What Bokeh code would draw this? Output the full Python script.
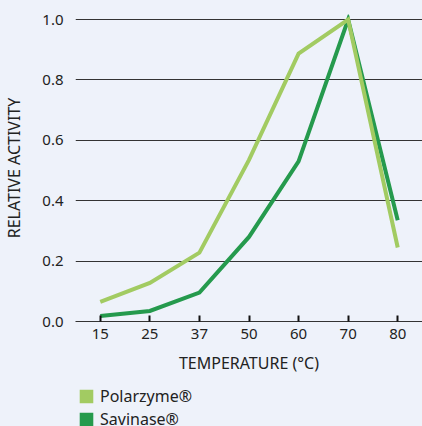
from bokeh.plotting import figure
from bokeh.layouts import column
from bokeh.models import FixedTicker, Legend, LegendItem, Range1d, FactorRange
from bokeh.embed import file_html
from bokeh.resources import INLINE

temps = ["15", "25", "37", "50", "60", "70", "80"]
polarzyme = [0.065, 0.128, 0.228, 0.535, 0.887, 1.0, 0.245]
savinase = [0.018, 0.035, 0.096, 0.28, 0.53, 1.0, 0.335]
y_ticks = [0.0, 0.2, 0.4, 0.6, 0.8, 1.0]
series_names = ["Polarzyme®", "Savinase®"]

BG = "#eef2fa"
LIGHT = "#a2cb62"
DARK = "#259a4d"
FONT = "Noto Sans"
TXT = "#222222"
NAN = float("nan")

fig = figure(width=422, height=376, output_backend="svg", toolbar_location=None,
             x_range=FactorRange(factors=temps, range_padding=0),
             y_range=Range1d(0, 1.0166),
             min_border_left=68, min_border_right=0, min_border_top=14,
             min_border_bottom=55)
fig.background_fill_color = BG
fig.border_fill_color = BG
fig.outline_line_color = None

fig.line(temps, savinase, line_color=DARK, line_width=4, line_join="miter")
fig.line(temps, polarzyme, line_color=LIGHT, line_width=4, line_join="miter")

fig.xgrid.visible = False
fig.ygrid.grid_line_color = "#333333"
fig.ygrid.grid_line_width = 1

fig.yaxis.ticker = FixedTicker(ticks=y_ticks)
fig.yaxis.major_label_overrides = {t: f"{t:.1f}" for t in y_ticks}
fig.yaxis.axis_line_color = None
fig.yaxis.major_tick_line_color = None
fig.yaxis.minor_tick_line_color = None
fig.yaxis.major_label_standoff = 6
fig.yaxis.axis_label = "RELATIVE ACTIVITY"
fig.yaxis.axis_label_standoff = 14

fig.xaxis.axis_line_color = "#333333"
fig.xaxis.axis_line_width = 1
fig.xaxis.major_tick_line_color = "#111111"
fig.xaxis.major_tick_line_width = 2
fig.xaxis.major_tick_in = 6
fig.xaxis.major_tick_out = 0
fig.xaxis.minor_tick_line_color = None
fig.xaxis.major_label_standoff = 7
fig.xaxis.axis_label = "TEMPERATURE (°C)"
fig.xaxis.axis_label_standoff = 10

for ax in (fig.xaxis, fig.yaxis):
    ax.major_label_text_font = FONT
    ax.major_label_text_font_size = "15px"
    ax.major_label_text_color = TXT
    ax.axis_label_text_font = FONT
    ax.axis_label_text_font_size = "16px"
    ax.axis_label_text_font_style = "normal"
    ax.axis_label_text_color = TXT

# legend panel
lfig = figure(width=422, height=50, output_backend="svg", toolbar_location=None,
              x_axis_location=None, y_axis_location=None,
              min_border_left=64, min_border_right=0, min_border_top=9,
              min_border_bottom=0)
lfig.background_fill_color = BG
lfig.border_fill_color = BG
lfig.outline_line_color = None
lfig.grid.visible = False
sw_p = lfig.quad(left=[NAN], right=[NAN], top=[NAN], bottom=[NAN],
                 fill_color=LIGHT, line_color=BG, line_width=4)
sw_s = lfig.quad(left=[NAN], right=[NAN], top=[NAN], bottom=[NAN],
                 fill_color=DARK, line_color=BG, line_width=4)

legend = Legend(items=[LegendItem(label=series_names[0], renderers=[sw_p]),
                       LegendItem(label=series_names[1], renderers=[sw_s])],
                location="top_left", orientation="vertical")
legend.glyph_width = 22
legend.glyph_height = 22
legend.label_height = 14
legend.spacing = 1
legend.label_standoff = 3
legend.padding = 0
legend.margin = 0
legend.border_line_color = None
legend.background_fill_alpha = 0
legend.label_text_font = FONT
legend.label_text_font_size = "16px"
legend.label_text_color = TXT
lfig.add_layout(legend, "center")

p = column(fig, lfig, spacing=0, styles={"background-color": BG})
open("out.html", "w").write(file_html(p, INLINE))
